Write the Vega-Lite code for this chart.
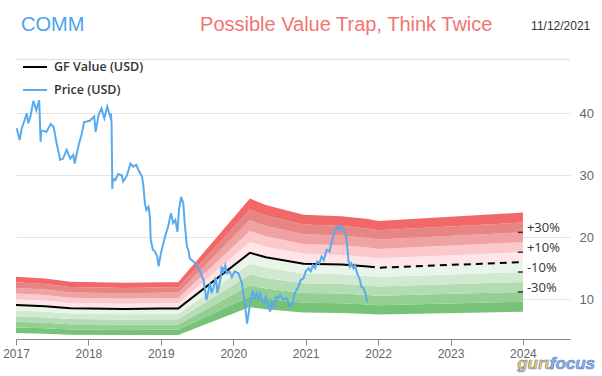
{
  "$schema": "https://vega.github.io/schema/vega-lite/v6.json",
  "autosize": {"type": "none"},
  "width": 554,
  "height": 280,
  "padding": {"left": 16, "top": 59, "right": 32, "bottom": 37},
  "background": "white",
  "config": {"view": {"stroke": null}, "font": "Liberation Sans"},
  "datasets": {
    "gf": [
      {"year": 2017.00, "m50": 4.55, "m40": 5.46, "m30": 6.37, "m20": 7.28, "m10": 8.19, "v": 9.10, "p10": 10.01, "p20": 10.92, "p30": 11.83, "p40": 12.74, "p50": 13.65},
      {"year": 2017.40, "m50": 4.45, "m40": 5.34, "m30": 6.23, "m20": 7.12, "m10": 8.01, "v": 8.90, "p10": 9.79, "p20": 10.68, "p30": 11.57, "p40": 12.46, "p50": 13.35},
      {"year": 2017.75, "m50": 4.28, "m40": 5.13, "m30": 5.99, "m20": 6.84, "m10": 7.70, "v": 8.55, "p10": 9.41, "p20": 10.26, "p30": 11.12, "p40": 11.97, "p50": 12.83},
      {"year": 2018.50, "m50": 4.23, "m40": 5.07, "m30": 5.92, "m20": 6.76, "m10": 7.61, "v": 8.45, "p10": 9.30, "p20": 10.14, "p30": 10.99, "p40": 11.83, "p50": 12.68},
      {"year": 2019.00, "m50": 4.25, "m40": 5.10, "m30": 5.95, "m20": 6.80, "m10": 7.65, "v": 8.50, "p10": 9.35, "p20": 10.20, "p30": 11.05, "p40": 11.90, "p50": 12.75},
      {"year": 2019.24, "m50": 4.25, "m40": 5.10, "m30": 5.95, "m20": 6.80, "m10": 7.65, "v": 8.50, "p10": 9.35, "p20": 10.20, "p30": 11.05, "p40": 11.90, "p50": 12.75},
      {"year": 2020.23, "m50": 8.75, "m40": 10.50, "m30": 12.25, "m20": 14.00, "m10": 15.75, "v": 17.50, "p10": 19.25, "p20": 21.00, "p30": 22.75, "p40": 24.50, "p50": 26.25},
      {"year": 2020.45, "m50": 8.40, "m40": 10.08, "m30": 11.76, "m20": 13.44, "m10": 15.12, "v": 16.80, "p10": 18.48, "p20": 20.16, "p30": 21.84, "p40": 23.52, "p50": 25.20},
      {"year": 2020.97, "m50": 7.88, "m40": 9.45, "m30": 11.03, "m20": 12.60, "m10": 14.18, "v": 15.75, "p10": 17.33, "p20": 18.90, "p30": 20.48, "p40": 22.05, "p50": 23.63},
      {"year": 2021.50, "m50": 7.80, "m40": 9.36, "m30": 10.92, "m20": 12.48, "m10": 14.04, "v": 15.60, "p10": 17.16, "p20": 18.72, "p30": 20.28, "p40": 21.84, "p50": 23.40},
      {"year": 2021.86, "m50": 7.65, "m40": 9.18, "m30": 10.71, "m20": 12.24, "m10": 13.77, "v": 15.30, "p10": 16.83, "p20": 18.36, "p30": 19.89, "p40": 21.42, "p50": 22.95},
      {"year": 2022.00, "m50": 7.55, "m40": 9.06, "m30": 10.57, "m20": 12.08, "m10": 13.59, "v": 15.10, "p10": 16.61, "p20": 18.12, "p30": 19.63, "p40": 21.14, "p50": 22.65},
      {"year": 2024.00, "m50": 8.00, "m40": 9.60, "m30": 11.20, "m20": 12.80, "m10": 14.40, "v": 16.00, "p10": 17.60, "p20": 19.20, "p30": 20.80, "p40": 22.40, "p50": 24.00}
    ],
    "price": [
      {"year": 2017.01, "v": 37.6}, {"year": 2017.05, "v": 35.7}, {"year": 2017.08, "v": 37.6}, {"year": 2017.11, "v": 38.6},
      {"year": 2017.15, "v": 40.0}, {"year": 2017.17, "v": 38.4}, {"year": 2017.20, "v": 39.5}, {"year": 2017.24, "v": 42.0},
      {"year": 2017.28, "v": 40.5}, {"year": 2017.32, "v": 42.1}, {"year": 2017.34, "v": 35.4}, {"year": 2017.35, "v": 37.3},
      {"year": 2017.42, "v": 37.0}, {"year": 2017.48, "v": 38.3}, {"year": 2017.52, "v": 37.8}, {"year": 2017.56, "v": 35.2},
      {"year": 2017.61, "v": 32.5}, {"year": 2017.65, "v": 32.7}, {"year": 2017.70, "v": 34.1}, {"year": 2017.75, "v": 32.7},
      {"year": 2017.79, "v": 33.3}, {"year": 2017.81, "v": 31.9}, {"year": 2017.86, "v": 34.6}, {"year": 2017.91, "v": 36.8},
      {"year": 2017.94, "v": 38.6}, {"year": 2018.02, "v": 38.8}, {"year": 2018.08, "v": 39.5}, {"year": 2018.10, "v": 37.0},
      {"year": 2018.14, "v": 39.7}, {"year": 2018.18, "v": 40.8}, {"year": 2018.22, "v": 39.2}, {"year": 2018.26, "v": 41.1},
      {"year": 2018.30, "v": 39.5}, {"year": 2018.31, "v": 40.0}, {"year": 2018.32, "v": 38.4}, {"year": 2018.33, "v": 27.8},
      {"year": 2018.34, "v": 29.5}, {"year": 2018.37, "v": 29.2}, {"year": 2018.41, "v": 30.2}, {"year": 2018.46, "v": 30.0},
      {"year": 2018.48, "v": 29.0}, {"year": 2018.53, "v": 29.9}, {"year": 2018.58, "v": 31.9}, {"year": 2018.62, "v": 31.4},
      {"year": 2018.66, "v": 31.7}, {"year": 2018.69, "v": 30.9}, {"year": 2018.74, "v": 29.8}, {"year": 2018.76, "v": 28.2},
      {"year": 2018.78, "v": 25.5}, {"year": 2018.80, "v": 24.4}, {"year": 2018.83, "v": 24.9}, {"year": 2018.85, "v": 23.3},
      {"year": 2018.86, "v": 19.6}, {"year": 2018.89, "v": 18.0}, {"year": 2018.92, "v": 17.7}, {"year": 2018.95, "v": 16.9},
      {"year": 2018.97, "v": 15.3}, {"year": 2019.00, "v": 17.4}, {"year": 2019.03, "v": 18.8}, {"year": 2019.07, "v": 20.6},
      {"year": 2019.10, "v": 21.7}, {"year": 2019.14, "v": 23.9}, {"year": 2019.17, "v": 22.3}, {"year": 2019.20, "v": 22.8},
      {"year": 2019.23, "v": 20.9}, {"year": 2019.25, "v": 24.4}, {"year": 2019.28, "v": 26.5}, {"year": 2019.31, "v": 25.5},
      {"year": 2019.33, "v": 22.3}, {"year": 2019.36, "v": 18.5}, {"year": 2019.38, "v": 18.0}, {"year": 2019.40, "v": 16.6},
      {"year": 2019.45, "v": 16.1}, {"year": 2019.50, "v": 15.5}, {"year": 2019.54, "v": 14.5}, {"year": 2019.59, "v": 13.1},
      {"year": 2019.61, "v": 11.5}, {"year": 2019.63, "v": 9.9}, {"year": 2019.66, "v": 11.5}, {"year": 2019.68, "v": 12.6},
      {"year": 2019.70, "v": 11.0}, {"year": 2019.73, "v": 12.0}, {"year": 2019.76, "v": 13.6}, {"year": 2019.78, "v": 11.0},
      {"year": 2019.82, "v": 13.1}, {"year": 2019.84, "v": 15.3}, {"year": 2019.86, "v": 14.5}, {"year": 2019.89, "v": 15.5},
      {"year": 2019.91, "v": 14.2}, {"year": 2019.95, "v": 14.5}, {"year": 2019.98, "v": 13.6}, {"year": 2020.02, "v": 14.5},
      {"year": 2020.07, "v": 14.2}, {"year": 2020.12, "v": 12.6}, {"year": 2020.15, "v": 9.9}, {"year": 2020.17, "v": 8.3},
      {"year": 2020.19, "v": 6.1}, {"year": 2020.22, "v": 8.3}, {"year": 2020.24, "v": 9.9}, {"year": 2020.27, "v": 11.2},
      {"year": 2020.30, "v": 10.2}, {"year": 2020.32, "v": 11.0}, {"year": 2020.35, "v": 9.9}, {"year": 2020.37, "v": 11.2},
      {"year": 2020.39, "v": 10.2}, {"year": 2020.42, "v": 9.4}, {"year": 2020.45, "v": 10.4}, {"year": 2020.48, "v": 9.1},
      {"year": 2020.51, "v": 8.0}, {"year": 2020.53, "v": 9.6}, {"year": 2020.56, "v": 8.8}, {"year": 2020.59, "v": 10.4},
      {"year": 2020.62, "v": 10.2}, {"year": 2020.65, "v": 10.7}, {"year": 2020.69, "v": 9.9}, {"year": 2020.74, "v": 10.2},
      {"year": 2020.78, "v": 8.8}, {"year": 2020.82, "v": 9.4}, {"year": 2020.85, "v": 11.0}, {"year": 2020.90, "v": 12.0},
      {"year": 2020.93, "v": 13.1}, {"year": 2020.97, "v": 13.4}, {"year": 2021.00, "v": 14.5}, {"year": 2021.04, "v": 15.0},
      {"year": 2021.07, "v": 14.5}, {"year": 2021.10, "v": 15.5}, {"year": 2021.13, "v": 15.0}, {"year": 2021.16, "v": 16.1},
      {"year": 2021.19, "v": 15.8}, {"year": 2021.22, "v": 16.9}, {"year": 2021.25, "v": 16.3}, {"year": 2021.29, "v": 18.0},
      {"year": 2021.33, "v": 17.7}, {"year": 2021.36, "v": 19.3}, {"year": 2021.38, "v": 20.1}, {"year": 2021.40, "v": 21.2},
      {"year": 2021.44, "v": 21.7}, {"year": 2021.46, "v": 21.2}, {"year": 2021.49, "v": 21.8}, {"year": 2021.52, "v": 21.1},
      {"year": 2021.55, "v": 20.6}, {"year": 2021.57, "v": 19.0}, {"year": 2021.59, "v": 16.3}, {"year": 2021.61, "v": 15.3},
      {"year": 2021.63, "v": 15.8}, {"year": 2021.66, "v": 15.0}, {"year": 2021.68, "v": 15.5}, {"year": 2021.71, "v": 14.2},
      {"year": 2021.75, "v": 13.1}, {"year": 2021.77, "v": 12.0}, {"year": 2021.80, "v": 11.8}, {"year": 2021.83, "v": 10.7},
      {"year": 2021.85, "v": 9.6}
    ],
    "bandLabels": [
      {"year": 2024.0, "v": 20.8, "label": "+30%"},
      {"year": 2024.0, "v": 17.6, "label": "+10%"},
      {"year": 2024.0, "v": 14.4, "label": "-10%"},
      {"year": 2024.0, "v": 11.2, "label": "-30%"}
    ]
  },
  "layer": [
    {
      "data": {"name": "gf"},
      "mark": {"type": "area", "color": "#76c276", "opacity": 1},
      "encoding": {
        "x": {
          "field": "year", "type": "quantitative",
          "scale": {"domain": [2017, 2024.65], "nice": false, "zero": false},
          "axis": {
            "values": [2017, 2018, 2019, 2020, 2021, 2022, 2023, 2024],
            "format": "d", "title": null, "grid": false,
            "domainColor": "#888888", "tickColor": "#888888", "tickSize": 6,
            "labelColor": "#666666", "labelFontSize": 12, "labelPadding": 3,
            "labelFlush": false, "labelOverlap": false, "labelBound": false
          }
        },
        "y": {
          "field": "m50", "type": "quantitative",
          "scale": {"domain": [3.6, 48.76], "nice": false, "zero": false},
          "axis": {
            "orient": "right", "values": [10, 20, 30, 40], "title": null,
            "grid": true, "gridColor": "#e4e4e4", "domain": false, "ticks": false,
            "labelColor": "#666666", "labelFontSize": 13, "labelPadding": 9
          }
        },
        "y2": {"field": "m40"}
      }
    },
    {"data": {"name": "gf"}, "mark": {"type": "area", "color": "#93cf93", "opacity": 1}, "encoding": {"x": {"field": "year", "type": "quantitative"}, "y": {"field": "m40", "type": "quantitative"}, "y2": {"field": "m30"}}},
    {"data": {"name": "gf"}, "mark": {"type": "area", "color": "#b3dcb3", "opacity": 1}, "encoding": {"x": {"field": "year", "type": "quantitative"}, "y": {"field": "m30", "type": "quantitative"}, "y2": {"field": "m20"}}},
    {"data": {"name": "gf"}, "mark": {"type": "area", "color": "#d1e9d1", "opacity": 1}, "encoding": {"x": {"field": "year", "type": "quantitative"}, "y": {"field": "m20", "type": "quantitative"}, "y2": {"field": "m10"}}},
    {"data": {"name": "gf"}, "mark": {"type": "area", "color": "#e9f5e9", "opacity": 1}, "encoding": {"x": {"field": "year", "type": "quantitative"}, "y": {"field": "m10", "type": "quantitative"}, "y2": {"field": "v"}}},
    {"data": {"name": "gf"}, "mark": {"type": "area", "color": "#fee6e8", "opacity": 1}, "encoding": {"x": {"field": "year", "type": "quantitative"}, "y": {"field": "v", "type": "quantitative"}, "y2": {"field": "p10"}}},
    {"data": {"name": "gf"}, "mark": {"type": "area", "color": "#fbc9cc", "opacity": 1}, "encoding": {"x": {"field": "year", "type": "quantitative"}, "y": {"field": "p10", "type": "quantitative"}, "y2": {"field": "p20"}}},
    {"data": {"name": "gf"}, "mark": {"type": "area", "color": "#f0a2a2", "opacity": 1}, "encoding": {"x": {"field": "year", "type": "quantitative"}, "y": {"field": "p20", "type": "quantitative"}, "y2": {"field": "p30"}}},
    {"data": {"name": "gf"}, "mark": {"type": "area", "color": "#e78585", "opacity": 1}, "encoding": {"x": {"field": "year", "type": "quantitative"}, "y": {"field": "p30", "type": "quantitative"}, "y2": {"field": "p40"}}},
    {"data": {"name": "gf"}, "mark": {"type": "area", "color": "#f26868", "opacity": 1}, "encoding": {"x": {"field": "year", "type": "quantitative"}, "y": {"field": "p40", "type": "quantitative"}, "y2": {"field": "p50"}}},
    {
      "data": {"name": "gf"},
      "transform": [{"filter": "datum.year <= 2021.86"}],
      "mark": {"type": "line", "strokeWidth": 2},
      "encoding": {
        "x": {"field": "year", "type": "quantitative"},
        "y": {"field": "v", "type": "quantitative"},
        "color": {
          "datum": "GF Value (USD)", "type": "nominal",
          "scale": {"domain": ["GF Value (USD)", "Price (USD)"], "range": ["#000000", "#5aaaee"]},
          "legend": {
            "title": null, "orient": "none", "legendX": 6, "legendY": -5,
            "symbolType": "stroke", "symbolSize": 576, "symbolStrokeWidth": 2,
            "rowPadding": 3, "padding": 0, "labelOffset": 6,
            "labelFont": "Open Sans", "labelFontWeight": 600, "labelFontSize": 12.5, "labelColor": "#333333"
          }
        }
      }
    },
    {
      "data": {"name": "gf"},
      "transform": [{"filter": "datum.year >= 2021.86"}],
      "mark": {"type": "line", "strokeWidth": 2, "strokeDash": [7, 5]},
      "encoding": {
        "x": {"field": "year", "type": "quantitative"},
        "y": {"field": "v", "type": "quantitative"},
        "color": {"datum": "GF Value (USD)", "type": "nominal"}
      }
    },
    {
      "data": {"name": "price"},
      "mark": {"type": "line", "strokeWidth": 2},
      "encoding": {
        "x": {"field": "year", "type": "quantitative"},
        "y": {"field": "v", "type": "quantitative"},
        "color": {"datum": "Price (USD)", "type": "nominal"}
      }
    },
    {
      "data": {"values": [{}]},
      "mark": {"type": "rule", "color": "#dddddd", "strokeWidth": 1},
      "encoding": {"x": {"datum": 2017, "type": "quantitative"}, "x2": {"datum": 2024.65}, "y": {"datum": 48.7, "type": "quantitative"}}
    },
    {
      "data": {"name": "bandLabels"},
      "mark": {"type": "rule", "color": "#333333", "strokeWidth": 1.5},
      "encoding": {"x": {"datum": 2023.93, "type": "quantitative"}, "x2": {"datum": 2024.0}, "y": {"field": "v", "type": "quantitative"}}
    },
    {
      "data": {"name": "bandLabels"},
      "mark": {"type": "text", "align": "left", "baseline": "middle", "dx": 4, "dy": -4, "fontSize": 13, "color": "#333333", "font": "Open Sans"},
      "encoding": {"x": {"field": "year", "type": "quantitative"}, "y": {"field": "v", "type": "quantitative"}, "text": {"field": "label"}}
    },
    {
      "data": {"values": [{}]},
      "mark": {"type": "text", "text": "COMM", "align": "left", "baseline": "alphabetic", "fontSize": 20, "color": "#4aa3f0"},
      "encoding": {"x": {"datum": 2017.07, "type": "quantitative"}, "y": {"datum": 53.3, "type": "quantitative"}}
    },
    {
      "data": {"values": [{}]},
      "mark": {"type": "text", "text": "Possible Value Trap, Think Twice", "align": "center", "baseline": "alphabetic", "fontSize": 20, "color": "#f27474"},
      "encoding": {"x": {"datum": 2021.56, "type": "quantitative"}, "y": {"datum": 53.3, "type": "quantitative"}}
    },
    {
      "data": {"values": [{}]},
      "mark": {"type": "text", "text": "11/12/2021", "align": "right", "baseline": "alphabetic", "fontSize": 12, "color": "#333333"},
      "encoding": {"x": {"datum": 2024.93, "type": "quantitative"}, "y": {"datum": 53.5, "type": "quantitative"}}
    },
    {
      "data": {"values": [{}]},
      "mark": {"type": "text", "text": "guru", "align": "left", "baseline": "alphabetic", "fontSize": 17, "fontWeight": "bold", "fontStyle": "italic", "color": "#f5c445", "stroke": "#6a8fc8", "strokeWidth": 0.6},
      "encoding": {"x": {"datum": 2023.92, "type": "quantitative"}, "y": {"datum": -1.3, "type": "quantitative"}}
    },
    {
      "data": {"values": [{}]},
      "mark": {"type": "text", "text": "focus", "align": "left", "baseline": "alphabetic", "fontSize": 17, "fontWeight": "bold", "fontStyle": "italic", "color": "#8fb3e6", "stroke": "#5a82c0", "strokeWidth": 0.6},
      "encoding": {"x": {"datum": 2024.37, "type": "quantitative"}, "y": {"datum": -1.3, "type": "quantitative"}}
    }
  ]
}
